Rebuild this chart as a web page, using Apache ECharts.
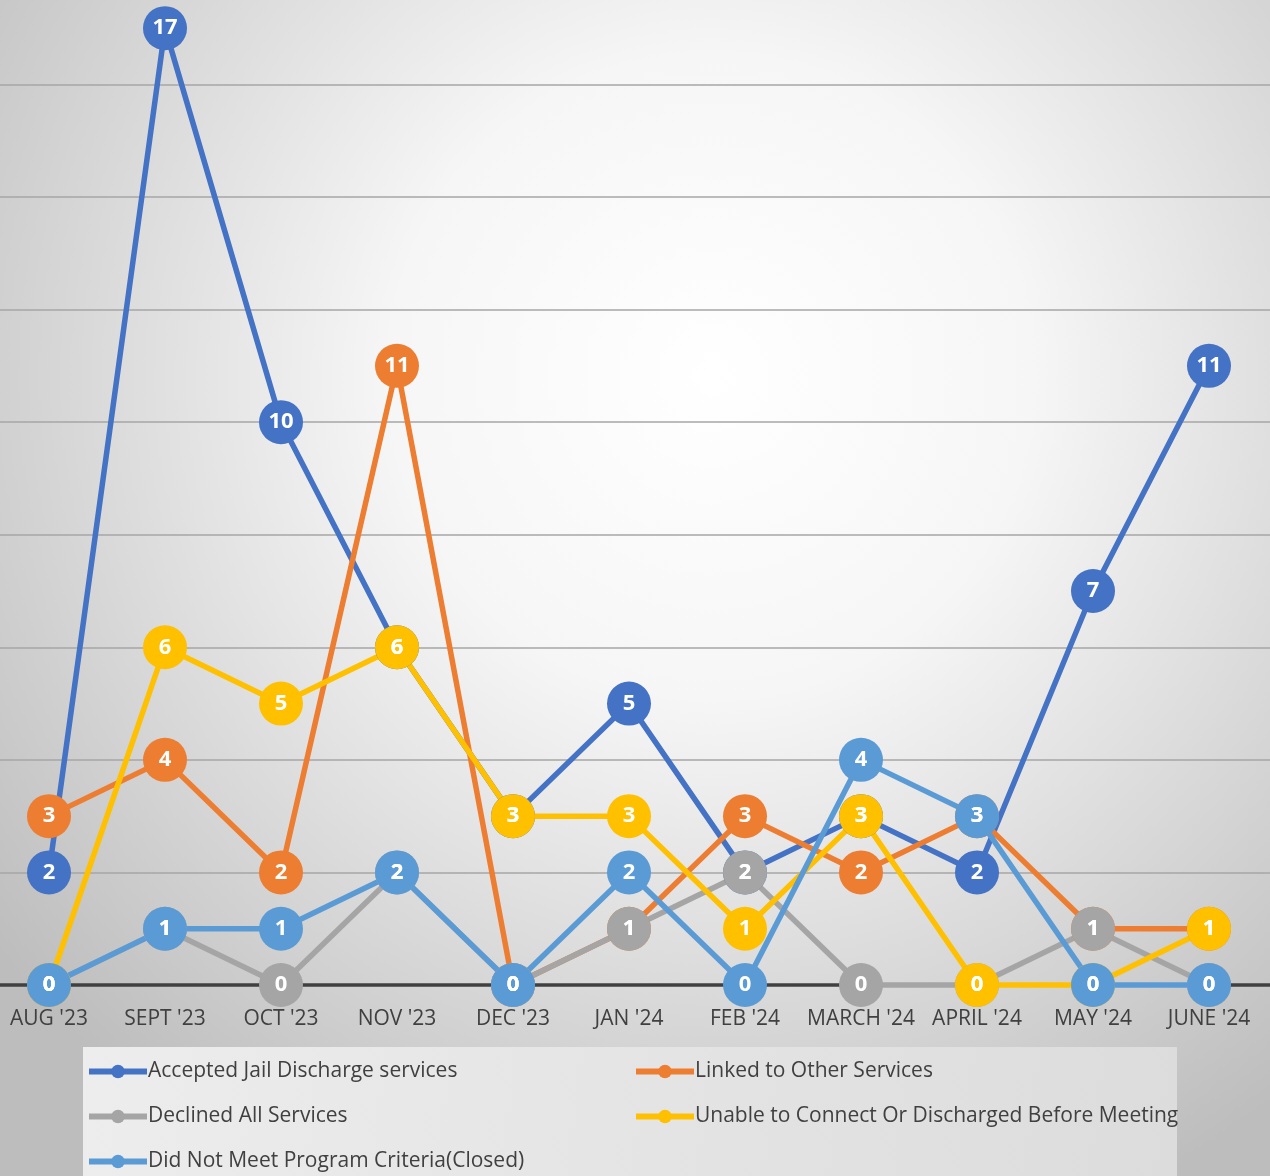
<!DOCTYPE html>
<html>
<head>
<meta charset="utf-8">
<script src="https://cdn.jsdelivr.net/npm/echarts@6/dist/echarts.min.js"></script>
<style>
html,body{margin:0;padding:0;}
#main{width:1270px;height:1176px;}
</style>
</head>
<body>
<div id="main"></div>
<script>
const categories = ["AUG '23","SEPT '23","OCT '23","NOV '23","DEC '23","JAN '24","FEB '24","MARCH '24","APRIL '24","MAY '24","JUNE '24"];
const accepted = [2,17,10,6,3,5,2,3,2,7,11];
const linked = [3,4,2,11,0,1,3,2,3,1,1];
const declined = [0,1,0,2,0,1,2,0,0,1,0];
const unable = [0,6,5,6,3,3,1,3,0,0,1];
const notMeet = [0,1,1,2,0,2,0,4,3,0,0];
const seriesNames = ["Accepted Jail Discharge services","Linked to Other Services","Declined All Services","Unable to Connect Or Discharged Before Meeting","Did Not Meet Program Criteria(Closed)"];
const colors = ["#4472C4","#ED7D31","#A5A5A5","#FFC000","#5B9BD5"];
const allData = [accepted, linked, declined, unable, notMeet];

const FONT = "'Open Sans', 'Noto Sans', sans-serif";
const YMAX = 17.5;
const chart = echarts.init(document.getElementById('main'));

const series = allData.map((d, i) => ({
  name: seriesNames[i],
  type: 'line',
  xAxisIndex: 0,
  yAxisIndex: 0,
  data: d,
  clip: false,
  symbol: 'circle',
  symbolSize: 44,
  lineStyle: { width: 5.5, color: colors[i] },
  itemStyle: { color: colors[i] },
  label: {
    show: true,
    position: 'inside',
    color: '#ffffff',
    fontWeight: 'bold',
    fontSize: 22,
    fontFamily: FONT
  },
  emphasis: { disabled: true },
  animation: false
}));

// legend positions: [left, top]
const legendPos = [[86, 1061], [633, 1061], [86, 1106], [633, 1106], [86, 1151]];
const legends = seriesNames.map((n, i) => ({
  left: legendPos[i][0],
  top: legendPos[i][1],
  padding: 0,
  data: [n],
  itemWidth: 58,
  itemHeight: 17,
  itemGap: 0,
  lineStyle: { width: 6 },
  textStyle: { color: '#404040', fontSize: 21, fontFamily: FONT, padding: [0, 0, 0, -4] },
  selectedMode: false
}));

chart.setOption({
  backgroundColor: {
    type: 'radial', x: 0.56, y: 0.32, r: 0.78,
    colorStops: [
      { offset: 0, color: '#ffffff' },
      { offset: 0.35, color: '#f6f6f6' },
      { offset: 1, color: '#bdbdbd' }
    ]
  },
  graphic: [{
    type: 'rect',
    shape: { x: 83, y: 1047, width: 1094, height: 135 },
    style: {
      fill: {
        type: 'linear', x: 0, y: 0, x2: 1, y2: 1,
        colorStops: [
          { offset: 0, color: '#ededed' },
          { offset: 1, color: '#dcdcdc' }
        ]
      }
    },
    z: -1
  }],
  grid: [
    { left: 49, right: 61, top: 0, bottom: 191, containLabel: false },
    { left: 0, right: 0, top: 0, bottom: 191, containLabel: false, z: 0 }
  ],
  xAxis: [{
    type: 'category',
    gridIndex: 0,
    data: categories,
    boundaryGap: false,
    axisLine: { show: false },
    axisTick: { show: false },
    axisLabel: { color: '#404040', fontSize: 21, fontFamily: FONT, margin: 24, interval: 0 },
    splitLine: { show: false }
  }, {
    type: 'value',
    gridIndex: 1,
    min: 0, max: 1,
    axisLine: { show: true, onZero: false, lineStyle: { color: '#404040', width: 3.5 } },
    axisTick: { show: false },
    axisLabel: { show: false },
    splitLine: { show: false }
  }],
  yAxis: [{
    type: 'value',
    gridIndex: 0,
    min: 0,
    max: YMAX,
    interval: 2,
    axisLine: { show: false },
    axisTick: { show: false },
    axisLabel: { show: false },
    splitLine: { show: false }
  }, {
    type: 'value',
    gridIndex: 1,
    min: 0,
    max: YMAX,
    interval: 2,
    axisLine: { show: false },
    axisTick: { show: false },
    axisLabel: { show: false },
    splitLine: { show: true, showMinLine: false, showMaxLine: false, lineStyle: { color: '#a6a6a6', width: 1.5 } }
  }],
  legend: legends,
  series: series,
  animation: false
});
</script>
</body>
</html>
